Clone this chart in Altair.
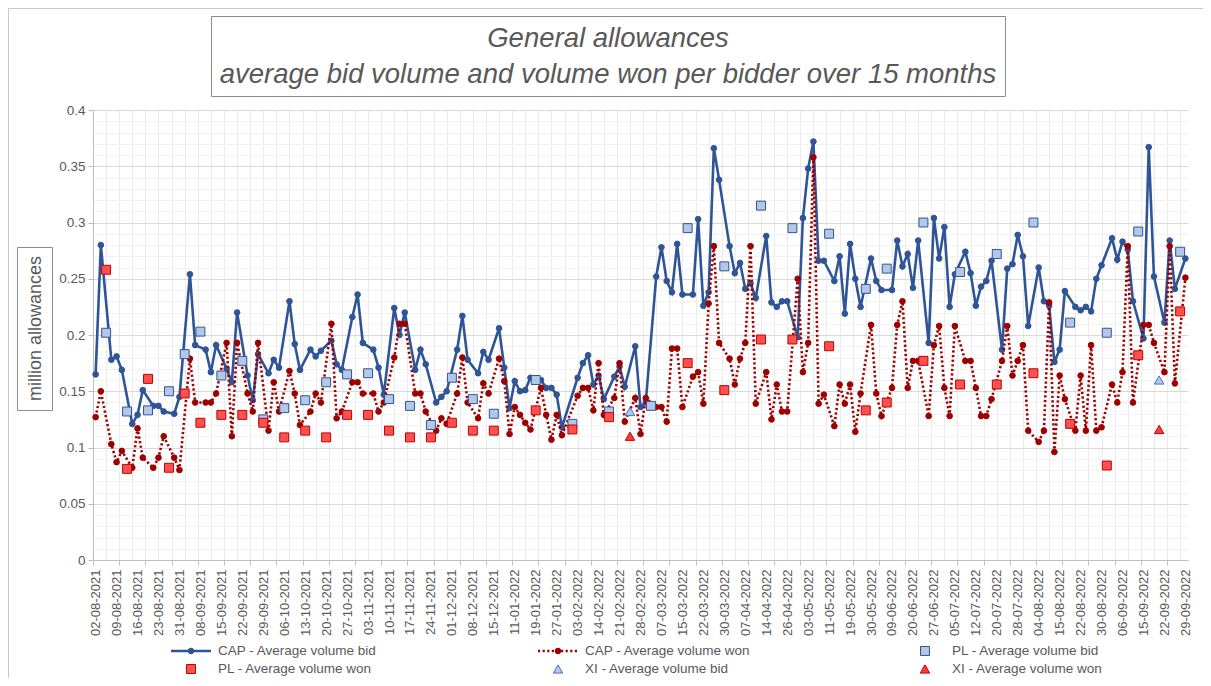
import json
import altair as alt
import pandas as pd

FONT = "Liberation Sans"
TXT = "#595959"

x_labels = ["02-08-2021", "09-08-2021", "16-08-2021", "23-08-2021", "31-08-2021", "08-09-2021",
            "15-09-2021", "22-09-2021", "29-09-2021", "06-10-2021", "13-10-2021", "20-10-2021",
            "27-10-2021", "03-11-2021", "10-11-2021", "17-11-2021", "24-11-2021", "01-12-2021",
            "08-12-2021", "15-12-2021", "11-01-2022", "19-01-2022", "27-01-2022", "03-02-2022",
            "14-02-2022", "21-02-2022", "28-02-2022", "07-03-2022", "15-03-2022", "22-03-2022",
            "30-03-2022", "07-04-2022", "14-04-2022", "26-04-2022", "03-05-2022", "11-05-2022",
            "19-05-2022", "30-05-2022", "09-06-2022", "20-06-2022", "27-06-2022", "05-07-2022",
            "12-07-2022", "20-07-2022", "28-07-2022", "04-08-2022", "15-08-2022", "22-08-2022",
            "30-08-2022", "06-09-2022", "15-09-2022", "22-09-2022", "29-09-2022"]

# category index of each auction (labels shown every 4th category)
cap_idx = [0, 1, 3, 4, 5, 7, 8, 9, 11, 12, 13, 15, 16, 18, 19, 21, 22, 23, 25, 26, 27, 29, 30, 31,
           33, 34, 35, 37, 38, 39, 41, 42, 43, 45, 46, 47, 49, 50, 51, 53, 54, 55, 57, 58, 59, 61,
           62, 63, 65, 66, 67, 69, 70, 71, 73, 74, 75, 77, 78, 79, 80, 81, 82, 83, 85, 86, 87, 88,
           89, 92, 93, 94, 95, 96, 97, 99, 100, 101, 103, 104, 105, 107, 108, 109, 110, 111, 112,
           114, 115, 116, 117, 118, 119, 121, 122, 123, 124, 125, 126, 128, 129, 130, 131, 132,
           134, 135, 136, 137, 138, 139, 141, 142, 143, 144, 145, 146, 148, 149, 150, 152, 153,
           154, 155, 156, 157, 159, 160, 161, 162, 163, 164, 166, 167, 168, 169, 170, 171, 173,
           174, 175, 176, 177, 178, 180, 181, 182, 183, 184, 185, 187, 188, 189, 190, 191, 192,
           194, 195, 196, 197, 198, 200, 201, 202, 204, 205, 206, 208]
cap_bid = [0.165, 0.280, 0.178, 0.181, 0.169, 0.121, 0.129, 0.151, 0.137, 0.137, 0.132, 0.130,
           0.145, 0.254, 0.191, 0.187, 0.167, 0.191, 0.170, 0.158, 0.220, 0.164, 0.142, 0.183,
           0.166, 0.178, 0.171, 0.230, 0.192, 0.169, 0.187, 0.181, 0.186, 0.195, 0.174, 0.169,
           0.216, 0.236, 0.193, 0.187, 0.171, 0.147, 0.224, 0.200, 0.220, 0.169, 0.187, 0.174,
           0.140, 0.145, 0.150, 0.187, 0.217, 0.178, 0.166, 0.185, 0.178, 0.206, 0.171, 0.135,
           0.159, 0.150, 0.151, 0.162, 0.160, 0.153, 0.153, 0.147, 0.118, 0.162, 0.175, 0.182,
           0.156, 0.164, 0.143, 0.163, 0.172, 0.154, 0.190, 0.136, 0.140, 0.252, 0.278, 0.248,
           0.238, 0.281, 0.236, 0.236, 0.303, 0.226, 0.238, 0.366, 0.338, 0.279, 0.255, 0.264,
           0.241, 0.246, 0.233, 0.288, 0.229, 0.225, 0.230, 0.230, 0.198, 0.304, 0.348, 0.372,
           0.266, 0.266, 0.248, 0.270, 0.219, 0.281, 0.250, 0.225, 0.268, 0.248, 0.240, 0.240,
           0.284, 0.261, 0.272, 0.242, 0.284, 0.193, 0.304, 0.268, 0.296, 0.225, 0.254, 0.274,
           0.255, 0.226, 0.243, 0.248, 0.266, 0.187, 0.259, 0.263, 0.289, 0.270, 0.208, 0.260,
           0.230, 0.226, 0.176, 0.187, 0.239, 0.225, 0.222, 0.225, 0.221, 0.250, 0.262, 0.286,
           0.267, 0.283, 0.276, 0.230, 0.197, 0.367, 0.252, 0.211, 0.284, 0.241, 0.268]
cap_won = [0.127, 0.150, 0.103, 0.087, 0.097, 0.082, 0.117, 0.091, 0.082, 0.091, 0.110, 0.091,
           0.080, 0.179, 0.140, 0.140, 0.140, 0.148, 0.193, 0.110, 0.193, 0.148, 0.132, 0.193,
           0.115, 0.158, 0.132, 0.168, 0.148, 0.120, 0.132, 0.148, 0.140, 0.210, 0.126, 0.132,
           0.158, 0.158, 0.148, 0.148, 0.132, 0.140, 0.180, 0.210, 0.210, 0.148, 0.148, 0.132,
           0.115, 0.126, 0.121, 0.148, 0.180, 0.140, 0.126, 0.157, 0.148, 0.179, 0.159, 0.112,
           0.136, 0.129, 0.122, 0.116, 0.153, 0.129, 0.107, 0.129, 0.111, 0.146, 0.153, 0.153,
           0.133, 0.175, 0.129, 0.144, 0.175, 0.123, 0.144, 0.112, 0.144, 0.136, 0.136, 0.123,
           0.188, 0.188, 0.136, 0.163, 0.167, 0.139, 0.228, 0.279, 0.193, 0.179, 0.156, 0.179,
           0.193, 0.279, 0.139, 0.167, 0.125, 0.156, 0.132, 0.132, 0.250, 0.167, 0.193, 0.358,
           0.139, 0.147, 0.119, 0.156, 0.139, 0.156, 0.114, 0.148, 0.209, 0.148, 0.128, 0.153,
           0.209, 0.230, 0.153, 0.177, 0.177, 0.128, 0.191, 0.208, 0.153, 0.128, 0.208, 0.177,
           0.177, 0.153, 0.128, 0.128, 0.143, 0.177, 0.208, 0.164, 0.177, 0.191, 0.115, 0.105,
           0.115, 0.229, 0.096, 0.164, 0.143, 0.115, 0.164, 0.115, 0.191, 0.115, 0.118, 0.156,
           0.140, 0.167, 0.279, 0.140, 0.209, 0.209, 0.193, 0.167, 0.279, 0.157, 0.251]

pl_idx = [2, 6, 10, 14, 17, 20, 24, 28, 32, 36, 40, 44, 48, 52, 56, 60, 64, 68, 72, 76, 84, 91,
          98, 106, 113, 120, 127, 133, 140, 147, 151, 158, 165, 172, 179, 186, 193, 199, 207]
pl_bid = [0.202, 0.132, 0.133, 0.150, 0.183, 0.203, 0.164, 0.177, 0.125, 0.135, 0.142, 0.158,
          0.165, 0.166, 0.143, 0.137, 0.120, 0.162, 0.143, 0.130, 0.160, 0.121, 0.132, 0.137,
          0.295, 0.261, 0.315, 0.295, 0.290, 0.241, 0.259, 0.300, 0.256, 0.272, 0.300, 0.211,
          0.202, 0.292, 0.274]
pl_won = [0.258, 0.081, 0.161, 0.082, 0.148, 0.122, 0.129, 0.129, 0.122, 0.109, 0.115, 0.109,
          0.129, 0.129, 0.115, 0.109, 0.109, 0.122, 0.115, 0.115, 0.133, 0.116, 0.127, None,
          0.175, 0.151, 0.196, 0.196, 0.190, 0.133, 0.140, 0.177, 0.156, 0.156, 0.166, 0.121,
          0.084, 0.182, 0.221]

xi_idx = [102, 203]
xi_bid = [0.132, 0.160]
xi_won = [0.110, 0.116]

series_names = ["CAP - Average volume bid", "CAP - Average volume won",
                "PL - Average volume bid", "PL - Average volume won",
                "XI - Average volume bid", "XI - Average volume won"]
legend_col = [0, 1, 2, 0, 1, 2]
legend_row = [0, 0, 0, 1, 1, 1]

assert len(cap_idx) == len(cap_bid) == len(cap_won)
assert len(pl_idx) == len(pl_bid) == len(pl_won)

rows = []
for name, idxs, vals in [(series_names[0], cap_idx, cap_bid), (series_names[1], cap_idx, cap_won),
                         (series_names[2], pl_idx, pl_bid), (series_names[3], pl_idx, pl_won),
                         (series_names[4], xi_idx, xi_bid), (series_names[5], xi_idx, xi_won)]:
    for i, v in zip(idxs, vals):
        if v is not None:
            rows.append({"idx": i, "value": v, "series": name})
df = pd.DataFrame(rows)
leg_df = pd.DataFrame({"series": series_names, "col": legend_col, "row": legend_row})

# styles per series
STY = {
    series_names[0]: dict(shape="circle", size=32, fill="#2F5597", stroke="#2F5597"),
    series_names[1]: dict(shape="circle", size=32, fill="#9E0000", stroke="#9E0000"),
    series_names[2]: dict(shape="square", size=80, fill="#B4C7E7", stroke="#2F5597"),
    series_names[3]: dict(shape="square", size=80, fill="#FF5050", stroke="#C00000"),
    series_names[4]: dict(shape="triangle-up", size=90, fill="#B4C7E7", stroke="#4472C4"),
    series_names[5]: dict(shape="triangle-up", size=90, fill="#FF3B3B", stroke="#C00000"),
}

n_labels = len(x_labels)
grid_pos = [-0.5 + 2.5 * k for k in range(84)]
label_pos = [4 * k for k in range(n_labels)]
x_values = sorted(set(grid_pos) | set(label_pos))
lbl_expr = ("(abs(datum.value - round(datum.value)) < 0.01 && round(datum.value) % 4 == 0) ? "
            + json.dumps(x_labels) + "[round(datum.value) / 4] : ''")
grid_test = "abs((datum.value + 0.5) / 2.5 - round((datum.value + 0.5) / 2.5)) < 0.01"
tick_test = "abs((datum.value + 0.5) / 5 - round((datum.value + 0.5) / 5)) < 0.01"

x_axis = alt.Axis(values=x_values, title=None, labelExpr=lbl_expr, labelAngle=270,
                  labelAlign="right", labelBaseline="middle", labelFont=FONT, labelFontSize=13,
                  labelColor=TXT, labelOverlap=False, labelFlush=False, labelPadding=4,
                  tickSize=5, tickColor={"condition": {"test": tick_test, "value": "#bfbfbf"},
                                         "value": "transparent"},
                  grid=True, gridColor={"condition": {"test": grid_test, "value": "#ebebeb"},
                                        "value": "transparent"},
                  domainColor="#bfbfbf")

y_values = [round(0.01 * k, 2) for k in range(41)]
major_test = "abs(datum.value * 20 - round(datum.value * 20)) < 0.001"
y_axis = alt.Axis(values=y_values, format="~g", labelExpr=f"{major_test} ? datum.label : ''",
                  labelFont=FONT, labelFontSize=13.5, labelColor=TXT, labelPadding=3,
                  tickSize=5, tickColor={"condition": {"test": major_test, "value": "#bfbfbf"},
                                         "value": "transparent"},
                  grid=True, gridColor={"condition": {"test": major_test, "value": "#d9d9d9"},
                                        "value": "#f2f2f2"},
                  domainColor="#bfbfbf",
                  title="million allowances", titleAngle=270, titleX=-58, titleY=218,
                  titleAlign="center", titleBaseline="middle", titleFont=FONT,
                  titleFontSize=18, titleFontWeight="normal", titleColor=TXT)

X = alt.X("idx:Q", scale=alt.Scale(domain=[-0.5, 208.5], nice=False, zero=False), axis=x_axis)
Y = alt.Y("value:Q", scale=alt.Scale(domain=[0, 0.4], nice=False), axis=y_axis)

base = alt.Chart(df)


def pts(src, name, xe, ye):
    s = STY[name]
    return src.transform_filter(alt.datum.series == name).mark_point(
        shape=s["shape"], size=s["size"], fill=s["fill"], stroke=s["stroke"],
        strokeWidth=1, filled=True, opacity=1).encode(x=xe, y=ye)


main = alt.layer(
    base.transform_filter(alt.datum.series == series_names[0]).mark_line(
        color="#2F5597", strokeWidth=2.6).encode(x=X, y=Y),
    pts(base, series_names[0], X, Y),
    base.transform_filter(alt.datum.series == series_names[1]).mark_line(
        color="#9E0000", strokeWidth=2.6, strokeDash=[2.2, 2.4]).encode(x=X, y=Y),
    pts(base, series_names[1], X, Y),
    pts(base, series_names[2], X, Y),
    pts(base, series_names[3], X, Y),
    pts(base, series_names[4], X, Y),
    pts(base, series_names[5], X, Y),
)

# legend drawn from the legend table through its own scales
LX = alt.X("col:Q", scale=alt.Scale(domain=[0, 2], range=[98, 832]), axis=None)
LY = alt.Y("row:Q", scale=alt.Scale(domain=[0, 1], range=[541, 559]), axis=None)
lbase = alt.Chart(leg_df)
legend = alt.layer(
    lbase.transform_filter(alt.datum.series == series_names[0]).mark_rule(
        color="#2F5597", strokeWidth=2.6, xOffset=-20, x2Offset=20).encode(
        x=LX, x2=alt.X2("col:Q"), y=LY),
    lbase.transform_filter(alt.datum.series == series_names[1]).mark_rule(
        color="#9E0000", strokeWidth=2.6, strokeDash=[2.2, 2.4], xOffset=-20, x2Offset=20).encode(
        x=LX, x2=alt.X2("col:Q"), y=LY),
    *[pts(lbase, n, LX, LY) for n in series_names],
    lbase.mark_text(align="left", baseline="middle", dx=27, font=FONT, fontSize=13.5,
                    color=TXT).encode(x=LX, y=LY, text="series:N"),
)

one = alt.Data(values=[{"k": 0}])
deco = [
    alt.Chart(one).mark_rect(fillOpacity=0, stroke="#8c8c8c", strokeWidth=1).encode(
        x=alt.value(118.5), x2=alt.value(912.5), y=alt.value(-93.5), y2=alt.value(-13.5)),
    alt.Chart(one).mark_text(text="General allowances", font=FONT, fontSize=27.5,
                             fontStyle="italic", color=TXT, align="center",
                             baseline="middle").encode(x=alt.value(515), y=alt.value(-71)),
    alt.Chart(one).mark_text(text="average bid volume and volume won per bidder over 15 months",
                             font=FONT, fontSize=27.5, fontStyle="italic", color=TXT,
                             align="center", baseline="middle").encode(
        x=alt.value(515), y=alt.value(-35)),
    alt.Chart(one).mark_rect(fillOpacity=0, stroke="#8c8c8c", strokeWidth=1).encode(
        x=alt.value(-75.5), x2=alt.value(-40.5), y=alt.value(137.5), y2=alt.value(300.5)),
    alt.Chart(one).mark_rule(color="#c8c8c8", strokeWidth=1).encode(
        x=alt.value(-84.5), x2=alt.value(1110), y=alt.value(-101.5)),
    alt.Chart(one).mark_rule(color="#c8c8c8", strokeWidth=1).encode(
        x=alt.value(-84.5), y=alt.value(-101.5), y2=alt.value(570)),
]

chart = alt.layer(main, legend, *deco).resolve_scale(
    x="independent", y="independent"
).properties(
    width=1095, height=450,
    autosize=alt.AutoSizeParams(type="none"),
    padding={"left": 85, "top": 102, "right": 15, "bottom": 118},
).configure_view(stroke=None)

chart.save("out.html", embed_options={"renderer": "svg", "actions": False})
